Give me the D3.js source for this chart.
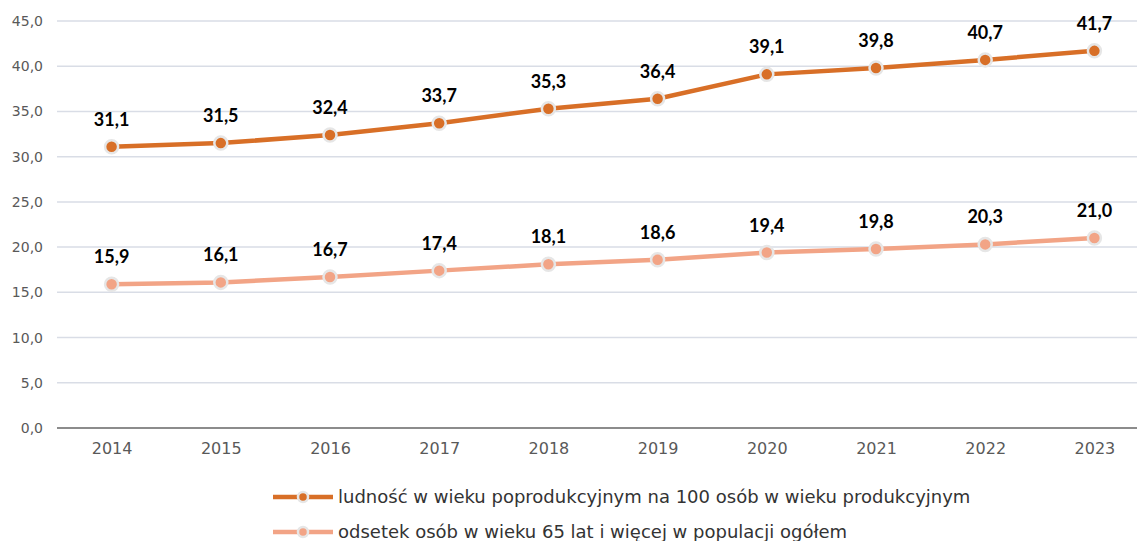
<!DOCTYPE html>
<html lang="pl">
<head>
<meta charset="utf-8">
<title>Wskaźniki starzenia</title>
<script src="https://cdn.jsdelivr.net/npm/d3@7"></script>
<style>
  body { margin: 0; background: #fff; }
  svg { display: block; }
  .tick text { font-family: "DejaVu Sans", sans-serif; }
</style>
</head>
<body>
<script>
// dane
var years = ["2014", "2015", "2016", "2017", "2018", "2019", "2020", "2021", "2022", "2023"];
var ratioValues = [31.1, 31.5, 32.4, 33.7, 35.3, 36.4, 39.1, 39.8, 40.7, 41.7];
var shareValues = [15.9, 16.1, 16.7, 17.4, 18.1, 18.6, 19.4, 19.8, 20.3, 21.0];
var yTicks = [0, 5, 10, 15, 20, 25, 30, 35, 40, 45];
var seriesNames = [
    "ludność w wieku poprodukcyjnym na 100 osób w wieku produkcyjnym",
    "odsetek osób w wieku 65 lat i więcej w populacji ogółem"
];
var colors = ["#d86f27", "#f2a486"];

var width = 1137, height = 541;
var plotLeft = 57, plotRight = 1149, plotTop = 21, plotBottom = 428;

var svg = d3.select("body").append("svg")
    .attr("width", width)
    .attr("height", height);

var x = d3.scalePoint().domain(years).range([plotLeft, plotRight]).padding(0.5);
var y = d3.scaleLinear().domain([0, 45]).range([plotBottom, plotTop]);

var fmt = function (v) { return v.toFixed(1).replace(".", ","); };

// siatka
svg.append("g")
    .selectAll("line")
    .data(yTicks.filter(function (d) { return d > 0; }))
    .enter().append("line")
    .attr("x1", plotLeft).attr("x2", width)
    .attr("y1", function (d) { return y(d); })
    .attr("y2", function (d) { return y(d); })
    .attr("stroke", "#d9dde6")
    .attr("stroke-width", 1.5);

// oś Y
var yAxis = svg.append("g")
    .attr("transform", "translate(" + (plotLeft - 14) + ",0)")
    .call(d3.axisLeft(y).tickValues(yTicks).tickFormat(fmt).tickSize(0).tickPadding(0));
yAxis.select(".domain").remove();
yAxis.selectAll("text").attr("fill", "#595959").style("font-size", "14px");

// oś X
var xAxis = svg.append("g")
    .attr("transform", "translate(0," + plotBottom + ")")
    .call(d3.axisBottom(x).tickSize(0).tickPadding(15));
xAxis.select(".domain").remove();
xAxis.selectAll("text").attr("fill", "#595959").style("font-size", "16px");

svg.append("line")
    .attr("x1", plotLeft).attr("x2", width)
    .attr("y1", plotBottom).attr("y2", plotBottom)
    .attr("stroke", "#8c8c8c")
    .attr("stroke-width", 2);

var line = d3.line()
    .x(function (d, i) { return x(years[i]); })
    .y(function (d) { return y(d); });

[ratioValues, shareValues].forEach(function (vals, s) {
    var g = svg.append("g");
    g.append("path")
        .datum(vals)
        .attr("d", line)
        .attr("fill", "none")
        .attr("stroke", colors[s])
        .attr("stroke-width", 4.5);
    g.selectAll("circle")
        .data(vals)
        .enter().append("circle")
        .attr("cx", function (d, i) { return x(years[i]); })
        .attr("cy", function (d) { return y(d); })
        .attr("r", 6.5)
        .attr("fill", colors[s])
        .attr("stroke", "#e6e6e6")
        .attr("stroke-width", 2.5);
    g.selectAll("text")
        .data(vals)
        .enter().append("text")
        .attr("x", function (d, i) { return x(years[i]); })
        .attr("y", function (d) { return y(d) - 21; })
        .attr("text-anchor", "middle")
        .attr("font-family", "Lato, 'DejaVu Sans', sans-serif")
        .attr("font-weight", "bold")
        .attr("font-size", "18px")
        .attr("fill", "#000")
        .text(fmt);
});

// legenda
var legend = svg.append("g");
seriesNames.forEach(function (name, s) {
    var ly = 497 + s * 35;
    legend.append("line")
        .attr("x1", 273).attr("x2", 333)
        .attr("y1", ly).attr("y2", ly)
        .attr("stroke", colors[s])
        .attr("stroke-width", 4.5);
    legend.append("circle")
        .attr("cx", 303).attr("cy", ly)
        .attr("r", 5)
        .attr("fill", colors[s])
        .attr("stroke", "#e6e6e6")
        .attr("stroke-width", 2.5);
    legend.append("text")
        .attr("x", 338).attr("y", ly + 6)
        .attr("font-family", "'DejaVu Sans', sans-serif")
        .attr("font-size", "18px")
        .attr("fill", "#333")
        .text(name);
});
</script>
</body>
</html>
